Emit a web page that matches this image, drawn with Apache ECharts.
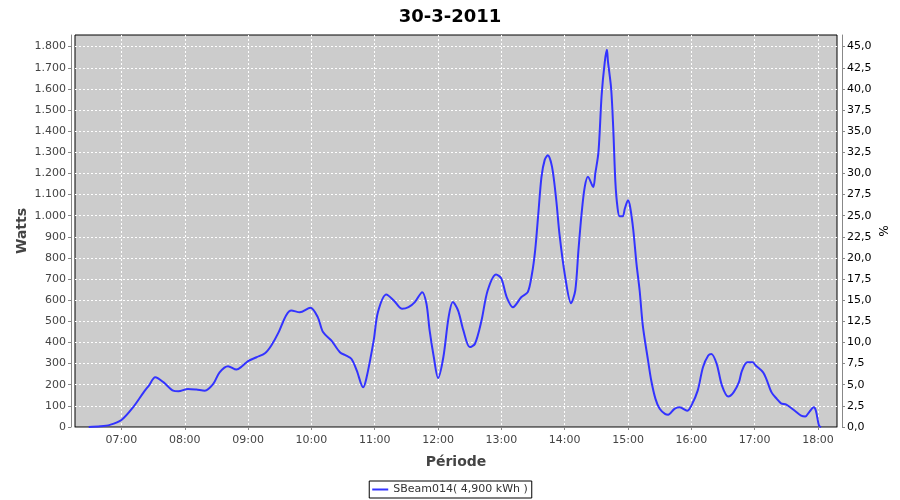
<!DOCTYPE html>
<html>
<head>
<meta charset="utf-8">
<script src="https://cdn.jsdelivr.net/npm/echarts@6/dist/echarts.min.js"></script>
<style>html,body{margin:0;padding:0;background:#fff;}#c{width:900px;height:500px;}</style>
</head>
<body>
<div id="c"></div>
<script>
var times = ["06:29","06:40","06:49","07:00","07:11","07:21","07:26","07:32","07:40","07:49","07:54","08:03","08:11","08:19","08:27","08:33","08:41","08:49","08:54","09:00","09:08","09:16","09:22","09:29","09:36","09:41","09:49","09:59","10:06","10:11","10:19","10:27","10:33","10:38","10:43","10:49","10:52","10:59","11:03","11:11","11:18","11:26","11:32","11:38","11:45","11:49","11:52","11:56","12:00","12:05","12:10","12:14","12:19","12:24","12:30","12:35","12:41","12:47","12:55","13:00","13:05","13:11","13:19","13:25","13:29","13:32","13:35","13:38","13:41","13:44","13:48","13:52","13:55","14:00","14:06","14:10","14:13","14:16","14:19","14:22","14:27","14:29","14:32","14:35","14:38","14:40","14:41","14:44","14:46","14:48","14:50","14:52","14:55","14:57","15:00","15:02","15:05","15:08","15:11","15:14","15:19","15:22","15:26","15:30","15:35","15:38","15:44","15:49","15:56","16:00","16:06","16:11","16:16","16:19","16:24","16:29","16:35","16:40","16:45","16:48","16:53","16:58","17:01","17:08","17:11","17:16","17:21","17:25","17:30","17:38","17:44","17:48","17:52","17:56","17:58","18:01","18:03"];
var watts = [0,3,10,33,93,164,196,235,211,172,169,180,177,172,204,259,288,272,286,312,330,349,386,449,528,551,543,564,520,449,409,354,338,322,267,188,228,409,543,627,599,559,567,591,638,583,457,330,232,330,520,591,551,457,378,394,500,646,722,702,615,567,615,638,725,836,1010,1184,1263,1286,1231,1073,915,725,586,646,836,1010,1136,1184,1136,1200,1302,1571,1729,1785,1729,1602,1413,1160,1040,997,997,1034,1073,1041,931,773,646,480,314,220,133,86,62,58,86,93,77,101,172,283,338,346,299,196,144,164,211,267,306,306,291,259,228,164,133,112,106,77,54,50,73,93,77,6,0];
var hourTicks = ["07:00","08:00","09:00","10:00","11:00","12:00","13:00","14:00","15:00","16:00","17:00","18:00"];
var seriesName = "SBeam014( 4,900 kWh )";
var chartTitle = "30-3-2011";

function toMin(s){var p=s.split(":");return (+p[0])*60+(+p[1]);}
function fmtMin(v){var h=Math.floor(v/60),m=Math.round(v-h*60);return (h<10?"0":"")+h+":"+(m<10?"0":"")+m;}
var data = times.map(function(t,i){return [toMin(t), watts[i]];});
var tickVals = hourTicks.map(toMin);
var yMax = 1855;
var yTickVals = [];
for (var k = 0; k <= 1800; k += 100) yTickVals.push(k);
var pTickVals = yTickVals.map(function(v){return v/40;});

var chart = echarts.init(document.getElementById('c'), null, {renderer:'canvas'});
var lblFont = {fontFamily:'DejaVu Sans', fontSize:11, color:'#444'};
chart.setOption({
  animation:false,
  backgroundColor:'#ffffff',
  title:{text:chartTitle,left:'center',top:3,textStyle:{fontFamily:'DejaVu Sans',fontSize:18,fontWeight:'bold',color:'#000'}},
  grid:{left:75,right:63,top:35,bottom:73,show:true,backgroundColor:'#cccccc',borderColor:'#000',borderWidth:1,containLabel:false},
  legend:{bottom:2,left:'center',data:[seriesName],icon:'rect',itemWidth:16,itemHeight:2,itemGap:4,
    borderColor:'#000',borderWidth:1,padding:[3,4,3,3],borderRadius:0,
    textStyle:{fontFamily:'DejaVu Sans',fontSize:11,color:'#333'}},
  xAxis:{type:'value',min:376,max:1098,offset:3,
    name:'Période',nameLocation:'middle',nameGap:25,nameMoveOverlap:false,
    nameTextStyle:{fontFamily:'DejaVu Sans',fontSize:14,fontWeight:'bold',color:'#444'},
    axisLine:{show:true,lineStyle:{color:'#888',width:1}},
    axisTick:{show:true,length:3,lineStyle:{color:'#888'},customValues:tickVals},
    axisLabel:Object.assign({margin:5,customValues:tickVals,formatter:function(v){return fmtMin(v);}},lblFont),
    splitLine:{show:true,lineStyle:{color:'#ffffff',type:[2,2],width:1}}
  },
  yAxis:[{type:'value',min:0,max:yMax,interval:100,offset:4,position:'left',
    name:'Watts',nameLocation:'middle',nameGap:42,nameMoveOverlap:false,
    nameTextStyle:{fontFamily:'DejaVu Sans',fontSize:14,fontWeight:'bold',color:'#444'},
    axisLine:{show:true,lineStyle:{color:'#888',width:1}},
    axisTick:{show:true,length:3,lineStyle:{color:'#888'},customValues:yTickVals},
    axisLabel:Object.assign({margin:5,customValues:yTickVals,formatter:function(v){if(v%100!==0)return '';return v>=1000?(Math.floor(v/1000)+'.'+String(v%1000).padStart(3,'0')):String(v);}},lblFont),
    splitLine:{show:true,lineStyle:{color:'#ffffff',type:[2,2],width:1}}
  },{type:'value',min:0,max:yMax/40,interval:2.5,offset:5,position:'right',
    name:'%',nameLocation:'middle',nameGap:34,nameRotate:-90,nameMoveOverlap:false,
    nameTextStyle:{fontFamily:'DejaVu Sans',fontSize:12,color:'#000'},
    axisLine:{show:true,lineStyle:{color:'#888',width:1}},
    axisTick:{show:true,length:3,lineStyle:{color:'#888'},customValues:pTickVals},
    axisLabel:{margin:5,customValues:pTickVals,fontFamily:'DejaVu Sans',fontSize:11,color:'#000',formatter:function(v){if(Math.abs(v/2.5-Math.round(v/2.5))>1e-6)return '';return v.toFixed(1).replace('.',',');}},
    splitLine:{show:false}
  }],
  series:[{name:seriesName,type:'line',data:data,smooth:0.3,showSymbol:false,symbol:'none',
    lineStyle:{color:'#3333ff',width:2},itemStyle:{color:'#3333ff'},yAxisIndex:0}]
});
</script>
</body>
</html>
